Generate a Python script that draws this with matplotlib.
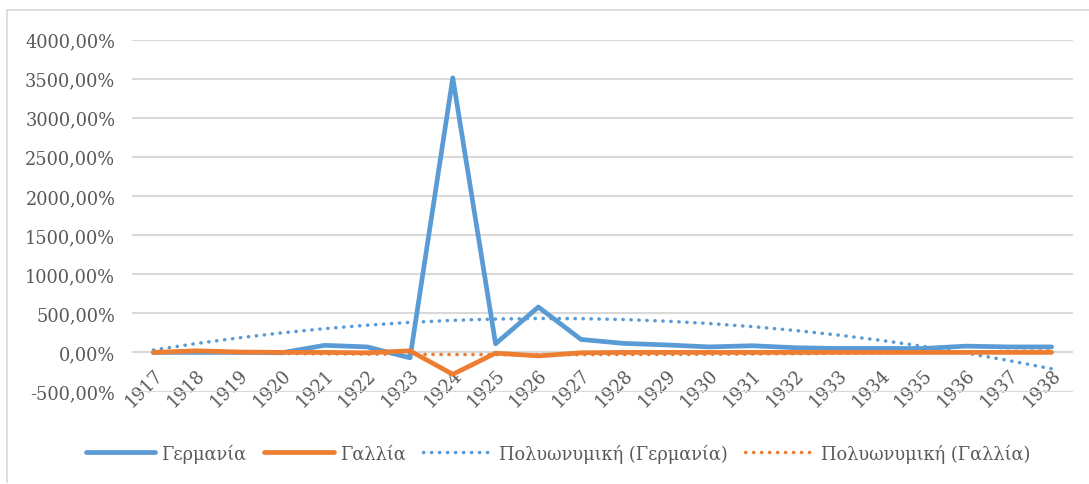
import matplotlib.pyplot as plt
from matplotlib.lines import Line2D
from matplotlib.ticker import FuncFormatter
import numpy as np

years = [str(y) for y in range(1917, 1939)]

# annual change, %
germany = [0, 0, 0, -5, 90, 70, -70, 3510, 110, 580, 165, 115, 95, 70, 85, 60, 50, 50, 50, 80, 70, 70]
france = [0, 20, 5, 0, 0, -5, 20, -280, -10, -45, -5, 0, 0, 0, 0, 0, 0, 0, 0, 0, 0, 0]

blue = '#5B9BD5'
orange = '#ED7D31'
grey = '#595959'

plt.rcParams['font.family'] = ['DejaVu Serif']

fig = plt.figure(figsize=(10.89, 4.85), dpi=100)
ax = fig.add_axes([132/1089, 1-392.5/485, (1073-132)/1089, (392.5-40.5)/485])

x = np.arange(1, len(years)+1)

# Excel style polynomial trendlines (order 2)
tg = np.polyval(np.polyfit(x, germany, 2), x)
tf = np.polyval(np.polyfit(x, france, 2), x)

ax.plot(x, germany, color=blue, lw=3.4, label='Γερμανία', solid_joinstyle='round', solid_capstyle='round', zorder=4)
ax.plot(x, france, color=orange, lw=3.4, label='Γαλλία', solid_joinstyle='round', solid_capstyle='round', zorder=5)
ax.plot(x, tg, color=blue, lw=2.5, ls=(0, (0.1, 2.2)), dash_capstyle='round', label='Πολυωνυμική (Γερμανία)', zorder=3)
ax.plot(x, tf, color=orange, lw=2.5, ls=(0, (0.1, 2.2)), dash_capstyle='round', label='Πολυωνυμική (Γαλλία)', zorder=3)

ax.spines['bottom'].set_position(('data', 0))
ax.set_xlim(0.5, len(years)+0.5)
ax.set_ylim(-500, 4000)
ax.set_yticks(range(-500, 4001, 500))
ax.yaxis.set_major_formatter(FuncFormatter(lambda v, p: '{:.2f}%'.format(v).replace('.', ',')))
ax.set_xticks(x)
ax.set_xticklabels(years)

ax.grid(axis='y', color='#D9D9D9', lw=1.5)
ax.set_axisbelow(True)
for s in ['left', 'right', 'top', 'bottom']:
    ax.spines[s].set_visible(False)
ax.tick_params(axis='both', length=0, labelsize=12.8, labelcolor=grey)
ax.tick_params(axis='y', pad=12)
ax.tick_params(axis='x', pad=9)
plt.setp(ax.get_xticklabels(), rotation=45, ha='right', rotation_mode='anchor')

fig.legend(loc='center', bbox_to_anchor=(558/1089, 1-454/485), ncol=4, frameon=False,
           fontsize=12.8, labelcolor=grey, handlelength=3.9, handletextpad=0.35, columnspacing=1.0)

# chart area border
fig.add_artist(Line2D([7/1089, 1], [1-11/485, 1-11/485], color='#D9D9D9', lw=1.2))
fig.add_artist(Line2D([7/1089, 7/1089], [1-11/485, 1-483/485], color='#D9D9D9', lw=1.2))

fig.savefig('out.png', dpi=100)
